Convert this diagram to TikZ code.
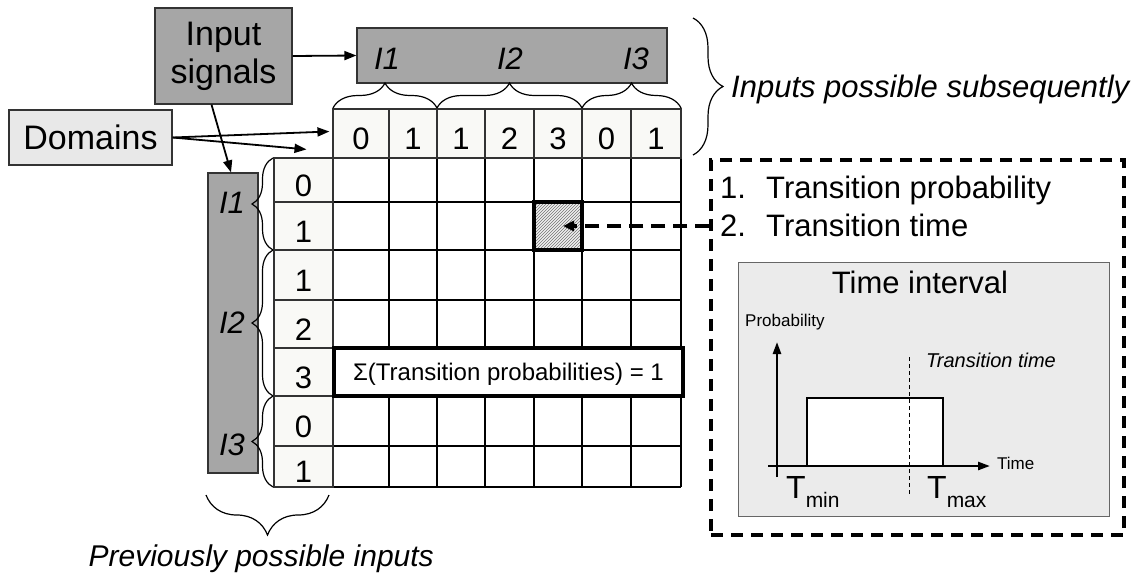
\documentclass[tikz,border=0pt]{standalone}
\usepackage{fontspec}
\setmainfont{Liberation Sans}
\usetikzlibrary{arrows.meta,decorations.pathreplacing,patterns,calc}

\definecolor{boxgray}{RGB}{166,166,166}
\definecolor{domgray}{RGB}{232,232,232}
\definecolor{headfill}{RGB}{249,249,246}
\definecolor{panelgray}{RGB}{235,235,235}

\tikzset{
  txt/.style={inner sep=0pt, font=\fontsize{31}{36}\selectfont},
  itxt/.style={inner sep=0pt, font=\fontsize{31}{36}\selectfont\itshape},
  darkbox/.style={draw=black!80, line width=1.2pt, fill=boxgray, inner sep=0pt},
  hcell/.style={draw=black!80, line width=1.2pt, fill=headfill, inner sep=0pt,
    text height=32pt, text depth=0pt, font=\fontsize{31}{36}\selectfont},
  brc/.style={decorate, decoration={brace, amplitude=#1}, line width=1.2pt},
  arr/.style={-{Triangle[length=12pt,width=9pt]}, line width=1.8pt},
  dashbox/.style={line width=3.2pt, dash pattern=on 12pt off 8pt},
}

\begin{document}
\begin{tikzpicture}[x=1pt,y=-1pt]
\useasboundingbox (0,0) rectangle (1141,573);

% matrix body
\foreach \x in {333,389,437,485,534,582,631,681}
    \draw[line width=1.8pt] (\x,158) -- (\x,487);
\foreach \y in {202,250,300,348,396,446,487}
    \draw[line width=1.8pt] (333,\y) -- (681,\y);

% domains of the inputs
\foreach \x/\w/\t [count=\i] in {361/56/0,413/48/1,461/48/1,509.5/49/2,558/48/3,606.5/49/0,656/50/1}
    \node[hcell, minimum width=\w pt, minimum height=49pt] (h\i) at (\x,133.5) {\t};
\foreach \y/\h/\t [count=\i] in {180/44/0,226/48/1,275/50/1,324/48/2,372/48/3,421/50/0,466.5/41/1}
    \node[hcell, minimum width=59pt, minimum height=\h pt] (r\i) at (303.5,\y) {\t};

\node[draw, line width=3.5pt, fill=white, minimum width=349pt, minimum height=48pt, inner sep=0pt,
  text depth=0pt, font=\fontsize{24}{28}\selectfont] (sum) at (508.5,372) {Σ(Transition probabilities) = 1};
\node[draw, line width=4pt, minimum size=48pt, inner sep=0pt, preaction={fill=gray!12},
  pattern=north east lines, pattern color=black!55] (hot) at (h5 |- r2) {};

% input signals
\node[darkbox, minimum width=310pt, minimum height=55pt] (topbar) at (512,55.5) {};
\node[itxt, anchor=base] (tI1) at (387,69) {I1};
\node[itxt, anchor=base] (tI2) at (510,69) {I2};
\node[itxt, anchor=base] (tI3) at (636,69) {I3};
\node[darkbox, minimum width=50pt, minimum height=300pt] (sidebar) at (233,323) {};
\node[itxt, anchor=base] (sI1) at (232,213) {I1};
\node[itxt, anchor=base] (sI2) at (232,333) {I2};
\node[itxt, anchor=base] (sI3) at (232,455) {I3};

\node[darkbox, minimum width=137pt, minimum height=96pt, align=center,
  font=\fontsize{34}{38}\selectfont] (insig) at (223.5,56) {Input\\signals};
\node[draw=black!80, line width=1.2pt, fill=domgray, minimum width=163pt, minimum height=55pt,
  inner sep=0pt, font=\fontsize{34}{38}\selectfont] (dom) at (90.5,137.5) {Domains};

\draw[arr] (insig.east) -- (topbar.west);
\draw[arr] ($(insig.south)+(-12,0)$) -- ($(sidebar.north)+(-2,0)$);
\draw[arr] (dom.east) -- ($(h1.west)+(-3,-2)$);
\draw[arr] (dom.east) -- ($(r1.north)+(3,-8)$);

% braces
\draw[brc=25] (333,108) -- (437,108);
\draw[brc=25] (437,108) -- (582,108);
\draw[brc=25] (582,108) -- (681,108);
\draw[brc=30] (693,18) -- (693,155);
\draw[brc=21] (273,250) -- (273,158);
\draw[brc=21] (273,396) -- (273,250);
\draw[brc=21] (273,487) -- (273,396);
\draw[brc=40] (329,495) -- (206,495);

\node[itxt, anchor=base west] (subs) at (731,97) {Inputs possible subsequently};
\node[itxt, anchor=base east, font=\fontsize{30}{34}\selectfont\itshape] (prev) at (434,566) {Previously possible inputs};

% transition details
\node[dashbox, draw, minimum width=413pt, minimum height=375pt, inner sep=0pt] (info) at (917.5,347.5) {};
\draw[line width=3.5pt, dash pattern=on 14pt off 8pt, -{Triangle[length=11pt,width=10pt]}]
  (info.west |- hot) -- ($(hot.center)+(5,0)$);

\node[txt, anchor=base west] (n1) at (720,198) {1.};
\node[txt, anchor=base west] (p1) at (766,198) {Transition probability};
\node[txt, anchor=base west] (n2) at (720,236) {2.};
\node[txt, anchor=base west] (p2) at (766,236) {Transition time};

\node[draw=black!60, line width=1pt, fill=panelgray, minimum width=371pt, minimum height=254pt,
  inner sep=0pt] (panel) at (923.5,389) {};
\node[txt, anchor=base] (tint) at (920,293) {Time interval};
\draw[line width=2.5pt, fill=white] (807,466) rectangle (943,398);
\draw[line width=2.5pt, -{Triangle[length=12pt,width=8pt]}] (777,477) -- (777,342);
\draw[line width=2.5pt, -{Triangle[length=12pt,width=8pt]}] (768,466) -- (990,466);
\draw[line width=0.9pt, dash pattern=on 4pt off 3pt] (909,357) -- (909,495);
\node[inner sep=0pt, anchor=base west, font=\fontsize{17}{20}\selectfont] (prob) at (745,326) {Probability};
\node[inner sep=0pt, anchor=base west, font=\fontsize{20}{24}\selectfont\itshape] (ttime) at (926,367) {Transition time};
\node[inner sep=0pt, anchor=base west, font=\fontsize{17}{20}\selectfont] (time) at (997,469) {Time};
\node[inner sep=0pt, anchor=base west, font=\fontsize{32}{36}\selectfont] (tmin) at (786,498)
  {T\raisebox{-9pt}{\fontsize{21}{24}\selectfont min}};
\node[inner sep=0pt, anchor=base west, font=\fontsize{32}{36}\selectfont] (tmax) at (927,498)
  {T\raisebox{-9pt}{\fontsize{21}{24}\selectfont max}};

\end{tikzpicture}
\end{document}
